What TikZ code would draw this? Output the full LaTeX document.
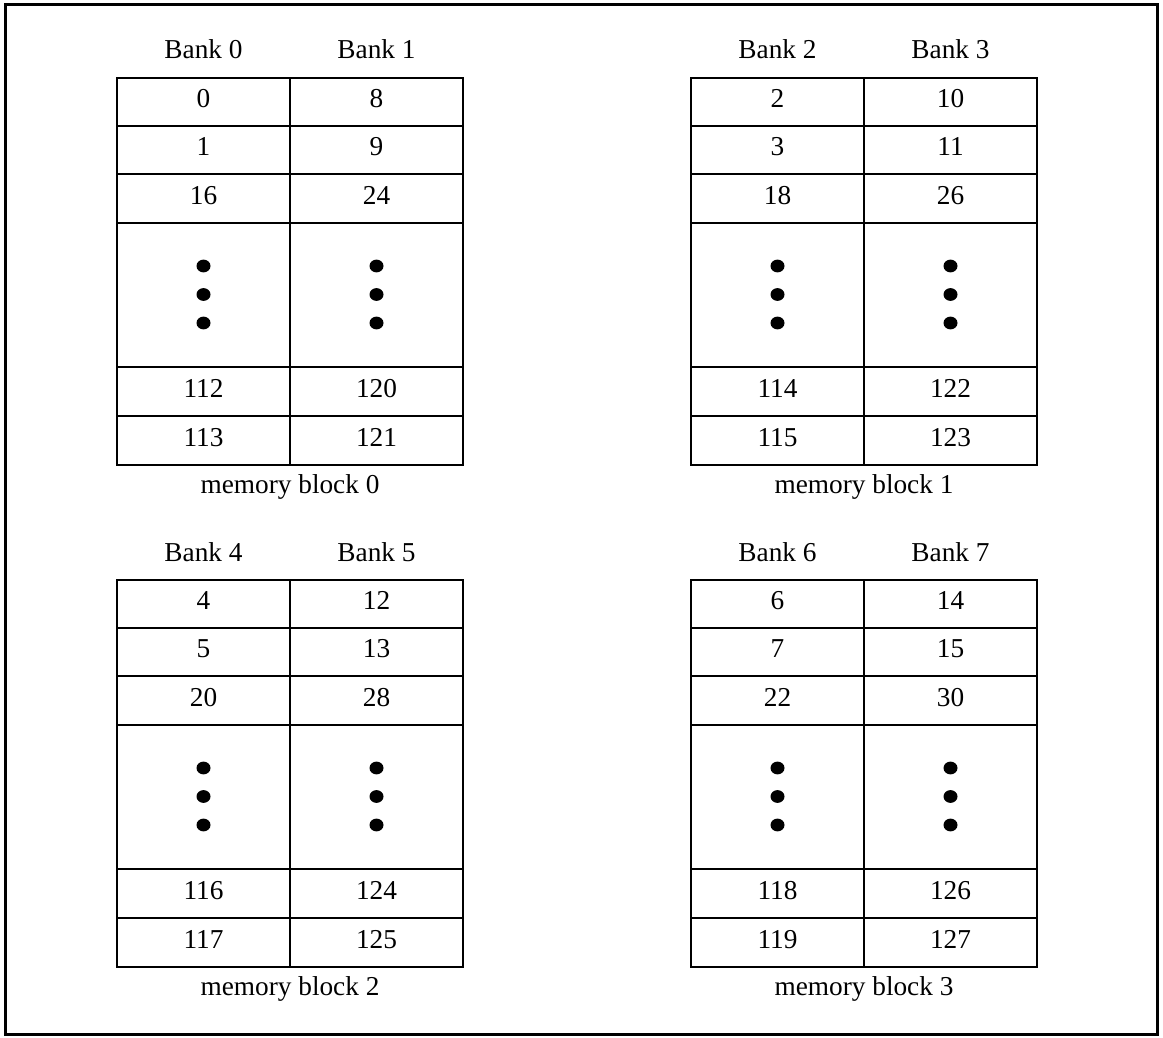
\documentclass[tikz,border=0pt]{standalone}
\usepackage{fontspec}
\setmainfont{Liberation Serif}
\newcommand\mbfont{\fontsize{27.3}{31}\selectfont}
\begin{document}
\begin{tikzpicture}[x=1pt,y=-1pt,
  cell/.style={draw, line width=1.5pt, inner sep=0pt, minimum width=173pt,
    text height=17.5pt, text depth=6pt, font=\mbfont},
  lbl/.style={inner sep=0pt, anchor=base, font=\mbfont},
  dot/.style={fill=black}]
\useasboundingbox (0,0) rectangle (1163,1038);
\fill[white] (0,0) rectangle (1163,1038);
\draw[line width=3pt] (5,5) rectangle (1157,1034);
\foreach \k/\dx/\dy in {0/0/0, 1/574/0, 2/0/502, 3/574/502} {
  \pgfmathtruncatemacro\ba{2*\k}
  \pgfmathtruncatemacro\bb{2*\k+1}
  \pgfmathtruncatemacro\aa{2*\k}
  \pgfmathtruncatemacro\ab{2*\k+1}
  \pgfmathtruncatemacro\ac{2*\k+16}
  \pgfmathtruncatemacro\ae{2*\k+112}
  \pgfmathtruncatemacro\af{2*\k+113}
  \pgfmathtruncatemacro\ca{2*\k+8}
  \pgfmathtruncatemacro\cb{2*\k+9}
  \pgfmathtruncatemacro\cc{2*\k+24}
  \pgfmathtruncatemacro\ce{2*\k+120}
  \pgfmathtruncatemacro\cf{2*\k+121}
  \begin{scope}[shift={(\dx,\dy)}]
    \node[lbl] (h\k a) at (203.5,59) {Bank \ba};
    \node[lbl] (h\k b) at (376.5,59) {Bank \bb};
    % column A
    \node[cell, minimum height=48pt] (m\k a1) at (203.5,102) {\aa};
    \node[cell, minimum height=48pt] (m\k a2) at (203.5,150) {\ab};
    \node[cell, minimum height=49pt] (m\k a3) at (203.5,198.5) {\ac};
    \node[cell, minimum height=144pt] (m\k a4) at (203.5,295) {};
    \node[cell, minimum height=49pt] (m\k a5) at (203.5,391.5) {\ae};
    \node[cell, minimum height=49pt] (m\k a6) at (203.5,440.5) {\af};
    % column B
    \node[cell, minimum height=48pt] (m\k b1) at (376.5,102) {\ca};
    \node[cell, minimum height=48pt] (m\k b2) at (376.5,150) {\cb};
    \node[cell, minimum height=49pt] (m\k b3) at (376.5,198.5) {\cc};
    \node[cell, minimum height=144pt] (m\k b4) at (376.5,295) {};
    \node[cell, minimum height=49pt] (m\k b5) at (376.5,391.5) {\ce};
    \node[cell, minimum height=49pt] (m\k b6) at (376.5,440.5) {\cf};
    % dots
    \foreach \cx in {203.5,376.5}{
      \foreach \cy in {266,294.5,323}{
        \fill[dot] (\cx,\cy) ellipse [x radius=7pt, y radius=6.4pt];
      }
    }
    \node[lbl] (cap\k) at (290,493) {memory block \k};
  \end{scope}
}
\end{tikzpicture}
\end{document}
